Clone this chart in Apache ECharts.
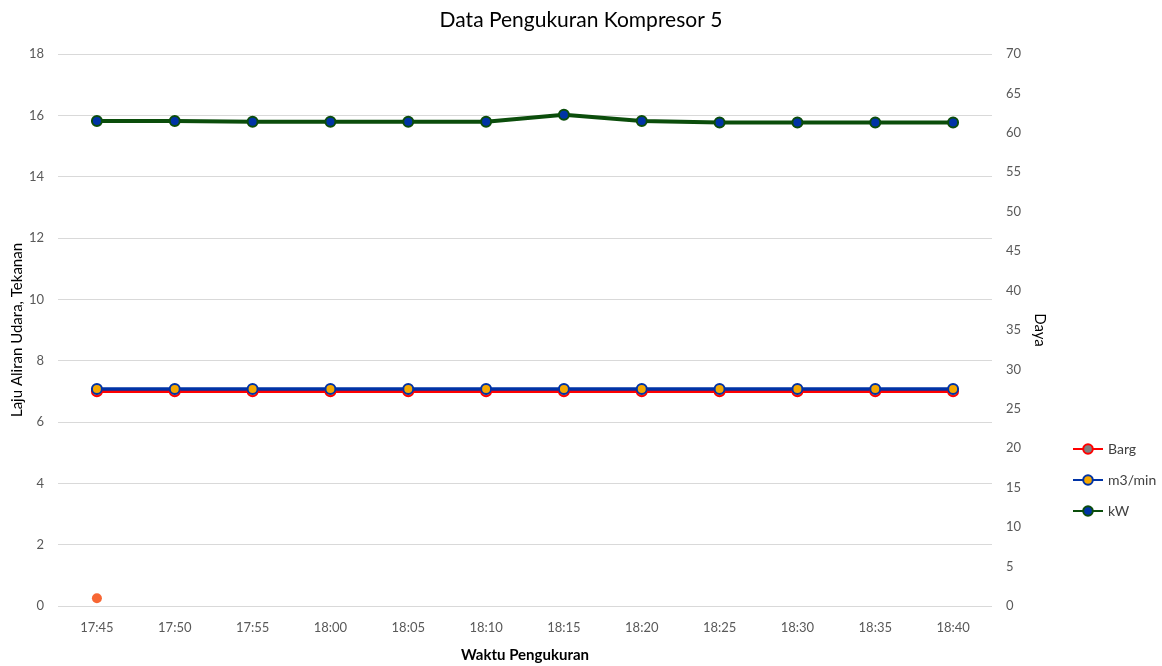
<!DOCTYPE html>
<html>
<head>
<meta charset="utf-8">
<script src="https://cdn.jsdelivr.net/npm/echarts@6/dist/echarts.min.js"></script>
<style>html,body{margin:0;padding:0;background:#fff}#c{width:1162px;height:666px}</style>
</head>
<body>
<div id="c"></div>
<script>
const categories = ['17:45','17:50','17:55','18:00','18:05','18:10','18:15','18:20','18:25','18:30','18:35','18:40'];
const barg = [7.0,7.0,7.0,7.0,7.0,7.0,7.0,7.0,7.0,7.0,7.0,7.0];
const flow = [7.08,7.08,7.08,7.08,7.08,7.08,7.08,7.08,7.08,7.08,7.08,7.08];
const kw = [61.5,61.5,61.4,61.4,61.4,61.4,62.3,61.5,61.3,61.3,61.3,61.3];
const extraPoint = [0.25,null,null,null,null,null,null,null,null,null,null,null];

const FONT = 'Lato';
const chart = echarts.init(document.getElementById('c'));
chart.setOption({
  animation: false,
  textStyle: {fontFamily: FONT},
  title: {text: 'Data Pengukuran Kompresor 5', left: 'center', top: 5,
    textStyle: {fontFamily: FONT, fontSize: 21, fontWeight: 'normal', color: '#000'}},
  legend: {orient: 'vertical', left: 1067, top: 437, itemGap: 17, itemWidth: 30, itemHeight: 12,
    data: ['Barg','m3/min','kW'],
    textStyle: {fontFamily: FONT, fontSize: 14, color: '#404040'}},
  grid: {left: 58, right: 170, top: 54, bottom: 60, outerBoundsMode: 'none', containLabel: false},
  xAxis: {type: 'category', data: categories, boundaryGap: true,
    name: 'Waktu Pengukuran', nameLocation: 'middle', nameGap: 42,
    nameTextStyle: {fontFamily: FONT, fontSize: 15, fontWeight: 'bold', color: '#000'},
    axisLine: {show: false}, axisTick: {show: false},
    axisLabel: {fontFamily: FONT, fontSize: 13, color: '#595959', margin: 15}},
  yAxis: [
    {type: 'value', min: 0, max: 18, interval: 2,
      name: 'Laju Aliran Udara, Tekanan', nameLocation: 'middle', nameGap: 33, nameMoveOverlap: false,
      nameTextStyle: {fontFamily: FONT, fontSize: 15, color: '#000'},
      axisLine: {show: false}, axisTick: {show: false},
      axisLabel: {fontFamily: FONT, fontSize: 13, color: '#595959', margin: 14},
      splitLine: {lineStyle: {color: '#d9d9d9', width: 1}}},
    {type: 'value', min: 0, max: 70, interval: 5, position: 'right',
      name: 'Daya', nameLocation: 'middle', nameGap: 31, nameRotate: -90,
      nameTextStyle: {fontFamily: FONT, fontSize: 15, color: '#000'},
      axisLine: {show: false}, axisTick: {show: false},
      axisLabel: {fontFamily: FONT, fontSize: 13, color: '#595959', margin: 14},
      splitLine: {show: false}}
  ],
  series: [
    {name: 'Barg', type: 'line', yAxisIndex: 0, data: barg, symbol: 'circle', symbolSize: 10,
      lineStyle: {color: '#ff0000', width: 3.5},
      itemStyle: {color: '#7f7f7f', borderColor: '#ff0000', borderWidth: 2}},
    {name: 'm3/min', type: 'line', yAxisIndex: 0, data: flow, symbol: 'circle', symbolSize: 10,
      lineStyle: {color: '#0033a6', width: 3.5},
      itemStyle: {color: '#f5a800', borderColor: '#0033a6', borderWidth: 2}},
    {name: 'kW', type: 'line', yAxisIndex: 1, data: kw, symbol: 'circle', symbolSize: 10,
      lineStyle: {color: '#0b4d0b', width: 4},
      itemStyle: {color: '#0033a6', borderColor: '#0b4d0b', borderWidth: 2}},
    {name: 'extra', type: 'scatter', yAxisIndex: 0, data: extraPoint, symbol: 'circle', symbolSize: 10,
      itemStyle: {color: '#f54000'}}
  ]
});
</script>
</body>
</html>
